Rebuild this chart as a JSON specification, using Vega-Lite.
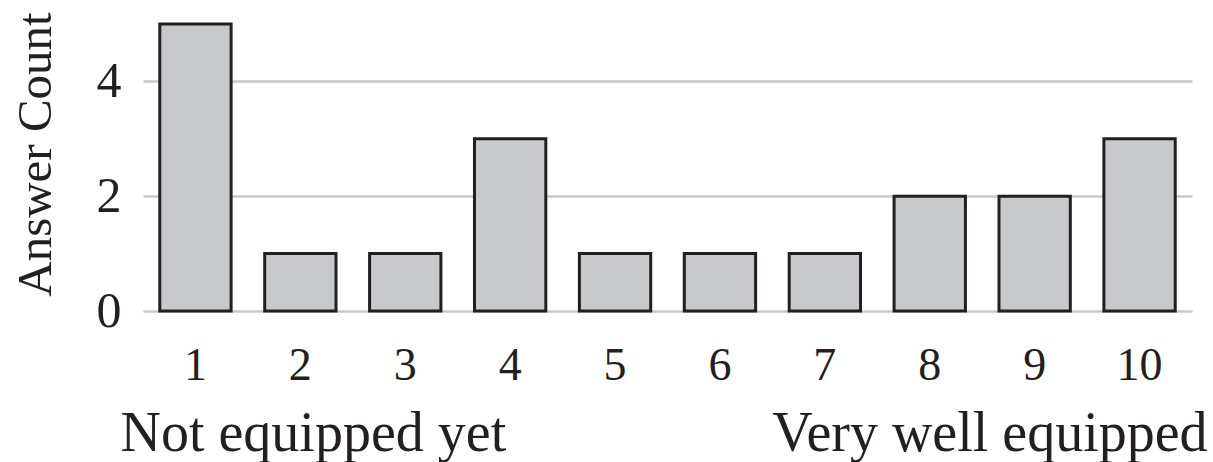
{
  "$schema": "https://vega.github.io/schema/vega-lite/v6.json",
  "width": 1049,
  "height": 287,
  "autosize": {"type": "none"},
  "padding": {"left": 143, "top": 24, "right": 21, "bottom": 151},
  "background": "white",
  "config": {
    "view": {"stroke": null},
    "font": "Liberation Serif"
  },
  "data": {
    "values": [
      {"rating": "1", "count": 5},
      {"rating": "2", "count": 1},
      {"rating": "3", "count": 1},
      {"rating": "4", "count": 3},
      {"rating": "5", "count": 1},
      {"rating": "6", "count": 1},
      {"rating": "7", "count": 1},
      {"rating": "8", "count": 2},
      {"rating": "9", "count": 2},
      {"rating": "10", "count": 3}
    ]
  },
  "mark": {"type": "bar", "fill": "#c8c9cb", "stroke": "#231f20", "strokeWidth": 3},
  "encoding": {
    "x": {
      "field": "rating",
      "type": "ordinal",
      "sort": null,
      "scale": {"paddingInner": 0.32, "paddingOuter": 0.16},
      "axis": {
        "title": "Not equipped yet\u00a0\u00a0\u00a0\u00a0\u00a0\u00a0\u00a0\u00a0\u00a0\u00a0\u00a0\u00a0\u00a0\u00a0\u00a0\u00a0\u00a0\u00a0\u00a0Very well equipped",
        "titleFont": "Liberation Serif",
        "titleFontSize": 56,
        "titleFontWeight": "normal",
        "titleColor": "#231f20",
        "titlePadding": 18,
        "titleAnchor": "start",
        "titleAlign": "left",
        "titleX": -23,
        "labelAngle": 0,
        "labelFont": "Liberation Serif",
        "labelFontSize": 46,
        "labelColor": "#231f20",
        "labelPadding": 32,
        "domain": false,
        "ticks": false
      }
    },
    "y": {
      "field": "count",
      "type": "quantitative",
      "scale": {"domain": [0, 5], "nice": false},
      "axis": {
        "title": "Answer Count",
        "values": [0, 2, 4],
        "titleFont": "Liberation Serif",
        "titleFontSize": 49,
        "titleFontWeight": "normal",
        "titleColor": "#231f20",
        "titlePadding": 36,
        "titleY": 130,
        "labelFont": "Liberation Serif",
        "labelFontSize": 50,
        "labelColor": "#231f20",
        "labelPadding": 22,
        "domain": false,
        "ticks": false,
        "grid": true,
        "gridColor": "#c8c8c8",
        "gridWidth": 2.5
      }
    }
  }
}
